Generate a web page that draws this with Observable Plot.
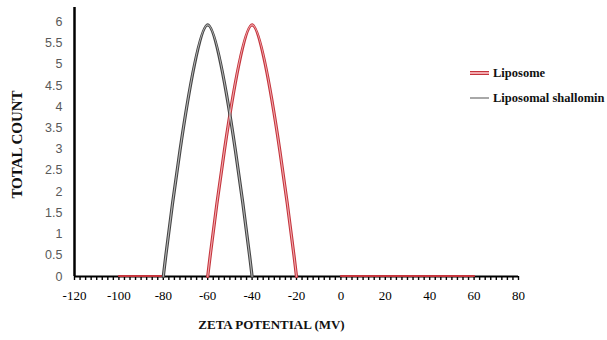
<!DOCTYPE html>
<html><head><meta charset="utf-8">
<script src="https://cdn.jsdelivr.net/npm/d3@7"></script>
<script src="https://cdn.jsdelivr.net/npm/@observablehq/plot@0.6"></script>
<style>
body{margin:0;background:#fff;}
#wrap{position:relative;width:607px;height:340px;}
.leg{position:absolute;left:470px;height:16px;font:bold 12.5px "Liberation Serif",serif;color:#111;display:flex;align-items:center;white-space:nowrap;}
.sw{width:19px;margin-right:4px;}
</style></head><body><div id="wrap"></div>
<script>
// ---- data ----
const seriesNames = ["Liposome", "Liposomal shallomin"];
const seriesColors = ["#c4343c", "#444444"];
const seriesInner = ["#f2a9ae", "#b5b5b5"];

const liposomeBase1X = [-100, -80];
const liposomeBase1Y = [0, 0];
const liposomePeakX = [-60, -40, -20];
const liposomePeakY = [0, 5.93, 0];
const liposomeBase2X = [0, 60];
const liposomeBase2Y = [0, 0];

const shallominPeakX = [-80, -60, -40];
const shallominPeakY = [0, 5.93, 0];

const xTickValues = [-120, -100, -80, -60, -40, -20, 0, 20, 40, 60, 80];
const yTickValues = [0, 0.5, 1, 1.5, 2, 2.5, 3, 3.5, 4, 4.5, 5, 5.5, 6];
const xLabel = "ZETA POTENTIAL (MV)";
const yLabel = "TOTAL COUNT";

// ---- build rows ----
function seg(series, part, xs, ys) {
  return xs.map((x, i) => ({series, part, segment: series + "|" + part, x, y: ys[i]}));
}
const rows = [
  ...seg(seriesNames[0], "base1", liposomeBase1X, liposomeBase1Y),
  ...seg(seriesNames[0], "peak", liposomePeakX, liposomePeakY),
  ...seg(seriesNames[0], "base2", liposomeBase2X, liposomeBase2Y),
  ...seg(seriesNames[1], "peak", shallominPeakX, shallominPeakY)
];
const peaks = rows.filter(d => d.part === "peak");
const bases = rows.filter(d => d.part !== "peak");
const minorTicks = d3.range(-120, 80.01, 2.5);

const chart = Plot.plot({
  width: 607,
  height: 340,
  marginLeft: 74,
  marginRight: 89,
  marginTop: 7,
  marginBottom: 64,
  style: {background: "#fff", overflow: "visible"},
  x: {domain: [-120, 80]},
  y: {domain: [0, 6.34]},
  color: {domain: seriesNames, range: seriesColors},
  marks: [
    Plot.axisY(yTickValues, {tickSize: 0, tickPadding: 12, fontSize: 12.5, fontFamily: "Liberation Sans, sans-serif", color: "#595959", label: null, tickFormat: d => String(d)}),
    Plot.axisX(minorTicks, {tickSize: 4, strokeWidth: 1.4, stroke: "#000", tickFormat: () => "", label: null}),
    Plot.axisX(xTickValues, {tickSize: 0, tickPadding: 14, fontSize: 13, fontFamily: "Liberation Serif, serif", fill: "#000", label: null, tickFormat: d => String(d)}),
    Plot.ruleY([0], {stroke: "#000", strokeWidth: 2}),
    Plot.ruleX([-120], {stroke: "#000", strokeWidth: 2.5}),
    Plot.line(bases, {x: "x", y: "y", z: "segment", stroke: "series", strokeWidth: 2, dy: -0.5}),
    Plot.line(peaks, {x: "x", y: "y", z: "segment", stroke: "series", strokeWidth: 3.2, curve: "cardinal", tension: 0}),
    Plot.line(peaks.filter(d => d.series === seriesNames[0]), {x: "x", y: "y", stroke: seriesInner[0], strokeWidth: 1.1, curve: "cardinal", tension: 0}),
    Plot.line(peaks.filter(d => d.series === seriesNames[1]), {x: "x", y: "y", stroke: seriesInner[1], strokeWidth: 1.1, curve: "cardinal", tension: 0}),
    Plot.text([xLabel], {text: d => d, frameAnchor: "bottom", dx: -25, dy: 52, fontSize: 13, fontWeight: "bold", fontFamily: "Liberation Serif, serif", fill: "#111"}),
    Plot.text([yLabel], {text: d => d, frameAnchor: "left", textAnchor: "middle", dx: -57, dy: 2.5, rotate: -90, fontSize: 15, fontWeight: "bold", fontFamily: "Liberation Serif, serif", fill: "#111"})
  ]
});

const wrap = document.getElementById("wrap");
wrap.appendChild(chart);

// legend
const legendTops = [65, 90];
seriesNames.forEach((name, i) => {
  const item = document.createElement("div");
  item.className = "leg";
  item.style.top = legendTops[i] + "px";
  const sw = document.createElement("div");
  sw.className = "sw";
  if (i === 0) {
    sw.style.height = "4px";
    sw.style.background = `linear-gradient(${seriesColors[0]} 0 1.3px, ${seriesInner[0]} 1.3px 2.7px, ${seriesColors[0]} 2.7px 4px)`;
  } else {
    sw.style.height = "2px";
    sw.style.background = "#a8a8a8";
  }
  item.appendChild(sw);
  const t = document.createElement("span");
  t.textContent = name;
  item.appendChild(t);
  wrap.appendChild(item);
});
</script></body></html>
